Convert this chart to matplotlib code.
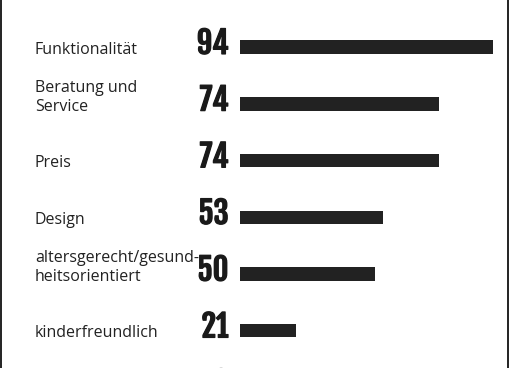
import matplotlib
matplotlib.use("Agg")
import matplotlib.pyplot as plt
import matplotlib.patheffects as pe
from matplotlib.lines import Line2D
from matplotlib.transforms import blended_transform_factory, offset_copy

labels = [
    "Funktionalität",
    "Beratung und\nService",
    "Preis",
    "Design",
    "altersgerecht/gesund-\nheitsorientiert",
    "kinderfreundlich",
    "",
]
values = [94, 74, 74, 53, 50, 21, 12]

W, H, DPI = 510, 368, 100
fig = plt.figure(figsize=(W / DPI, H / DPI), dpi=DPI)
fig.patch.set_facecolor("white")

# axes: bars start at x=240px, about 2.69 px per unit
ax = fig.add_axes([240 / W, 0, 260 / W, 1])
ax.set_xlim(0, 260 / 2.69)
row = 56.7
first = 47.2
ax.set_ylim((H - first) / row, -first / row)
ax.axis("off")

bar_h = 13.5 / row
ax.barh(range(len(values)), values, height=bar_h, color="#222222", clip_on=False)

label_tr = blended_transform_factory(fig.transFigure, ax.transData)
# a thin stroke makes the condensed numbers look heavier
heavy = [pe.withStroke(linewidth=0.9, foreground="#1a1a1a")]
for i, (lab, val) in enumerate(zip(labels, values)):
    base = i + bar_h / 2
    # value, right aligned in front of the bar
    ax.text(-11.5 / 2.69, base, str(val), ha="right", va="baseline",
            family="Fjalla One", fontsize=22, color="#1a1a1a",
            path_effects=heavy)
    # label lines, last line on the bar baseline
    for k, line in enumerate(reversed(lab.split("\n"))):
        tr = offset_copy(label_tr, fig=fig, y=19 * k, units="dots")
        ax.text(35 / W, base, line, transform=tr, ha="left", va="baseline",
                family="Open Sans", fontsize=11.5, color="#222222")

# thin frame lines left and right
fig.add_artist(Line2D([1.5 / W, 1.5 / W], [0, 1], color="#111111", lw=1.3))
fig.add_artist(Line2D([508.5 / W, 508.5 / W], [0, 1], color="#111111", lw=1.3))

fig.savefig("out.png", dpi=DPI)
